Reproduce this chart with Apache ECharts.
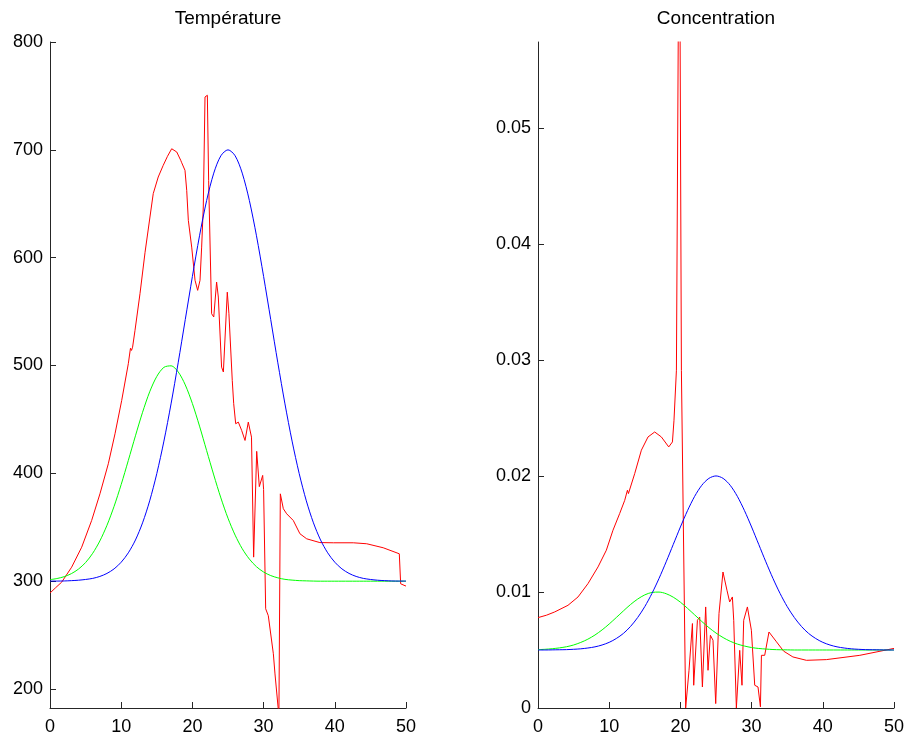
<!DOCTYPE html>
<html>
<head>
<meta charset="utf-8">
<script src="https://cdn.jsdelivr.net/npm/echarts@6/dist/echarts.min.js"></script>
<style>
html,body{margin:0;padding:0;background:#fff;}
#chart{width:911px;height:750px;}
</style>
</head>
<body>
<div id="chart"></div>
<script>
// ---- data ----
var titles = ['Température', 'Concentration'];
var xTicks = [0, 10, 20, 30, 40, 50];
var tempTicks = [200, 300, 400, 500, 600, 700, 800];
var concTicks = [0, 0.01, 0.02, 0.03, 0.04, 0.05];

var xGrid = [0,1,2,3,4,5,6,7,8,9,10,11,12,13,14,15,16,17,18,19,20,21,22,23,24,25,26,27,28,29,30,31,32,33,34,35,36,37,38,39,40,41,42,43,44,45,46,47,48,49,50];

var tempBlue = [300.1,300.1,300.2,300.5,300.9,301.6,302.6,304.4,307.2,311.4,317.6,326.3,338.2,354.1,374.5,399.8,429.9,464.4,502.5,542.6,582.6,620.3,653,678.4,694.5,700,694.5,678.4,653,620.3,582.6,542.6,502.5,464.4,429.9,399.8,374.5,354.1,338.2,326.3,317.6,311.4,307.2,304.4,302.6,301.6,300.9,300.5,300.2,300.1,300.1];

var tempGreen = [301.4,302.5,304.2,307,311.2,317.3,325.9,337.3,351.8,369.4,389.7,412,434.8,456.6,475.6,489.9,498.3,499.7,494.1,482,464.7,443.8,421.1,398.5,377.2,358.4,342.7,330.1,320.5,313.4,308.5,305.2,303.1,301.7,301,300.5,300.3,300.1,300,300,300,300,300,300,300,300,300,300,300,300,300];

var tempRedX = [0,0.8,1.64,3.04,4.45,5.85,7.02,8.19,9.13,10.07,11.0,11.3,11.45,11.6,11.94,12.64,13.35,14.04,14.5,15.2,15.9,16.5,17.09,17.8,18.36,18.5,18.7,18.96,19.2,19.43,19.9,20.37,20.74,21.07,21.3,21.53,21.77,22.1,22.28,22.7,23.0,23.4,23.64,24.1,24.35,24.9,25.13,25.6,25.8,26.08,26.45,26.92,27.39,27.85,28.3,28.6,29.03,29.4,29.87,30.0,30.29,30.66,30.9,31.37,31.6,32.15,32.35,32.77,33.24,34.17,35.1,36.05,37.9,39.8,42.6,44.48,46.8,49.06,49.25,49.86,50];
var tempRed = [289,294,299.1,313,331.5,356.3,381.1,408.9,436.7,467.6,501.7,516,514,517,532.6,566.6,605,637.7,659.4,674.8,685.6,694,701,698,690.3,688,688.7,681,662.4,634.6,609.8,579,569.7,579,609.8,647,749,750.6,671.7,548,545,577.4,563.5,498.5,494,568,548,486,464.6,446,447.5,439.8,430.5,447.5,433.6,322.3,420.4,387.7,398.1,385,274.4,268,269.8,232.7,214,175,381,367.2,362.5,356.3,344,339.3,335.8,335.6,335.6,334.7,331,325.4,297.6,295.8,295.5];

var concBlue = [0.005,0.005,0.00501,0.00502,0.00503,0.00506,0.0051,0.00517,0.00527,0.00543,0.00566,0.00599,0.00643,0.00703,0.0078,0.00874,0.00987,0.01117,0.0126,0.0141,0.0156,0.01701,0.01824,0.01919,0.01979,0.02,0.01979,0.01919,0.01824,0.01701,0.0156,0.0141,0.0126,0.01117,0.00987,0.00874,0.0078,0.00703,0.00643,0.00599,0.00566,0.00543,0.00527,0.00517,0.0051,0.00506,0.00503,0.00502,0.00501,0.005,0.005];

var concGreen = [0.00503,0.00506,0.00511,0.00518,0.00528,0.00543,0.00565,0.00593,0.00629,0.00673,0.00724,0.0078,0.00837,0.00892,0.00939,0.00975,0.00996,0.00999,0.00985,0.00955,0.00912,0.00859,0.00803,0.00746,0.00693,0.00646,0.00607,0.00575,0.00551,0.00534,0.00521,0.00513,0.00508,0.00504,0.00502,0.00501,0.005,0.005,0.005,0.005,0.005,0.005,0.005,0.005,0.005,0.005,0.005,0.005,0.005,0.005,0.005];

var concRedX = [0,1.2,2.35,4.21,5.62,7.02,8.43,9.6,10.53,11.47,12.18,12.56,12.7,12.88,13.58,14.52,15.45,16.39,17.33,18.36,18.88,19.1,19.44,19.85,20.14,20.74,21.21,21.69,21.87,22.15,22.39,22.71,23.09,23.55,23.88,24.21,24.58,24.96,25.42,25.98,26.54,26.92,27.3,27.49,27.86,28.33,28.65,28.89,29.41,29.97,30.44,30.9,31.24,31.38,31.84,32.44,33.5,34.5,35.8,37.7,40.5,45.2,49.86,50];
var concRed = [0.00779,0.008,0.00828,0.00885,0.00957,0.01072,0.01216,0.0136,0.01532,0.01676,0.0179,0.01877,0.01848,0.01842,0.0202,0.02222,0.02336,0.02379,0.02336,0.0225,0.02293,0.0248,0.02911,0.075,0.0291,0.0,0.00325,0.00728,0.00196,0.00181,0.00756,0.00784,0.00181,0.00871,0.00325,0.00627,0.00584,0.00038,0.00814,0.01172,0.01015,0.00914,0.00957,0.00756,0.0,0.00497,0.00196,0.00756,0.00871,0.0067,0.00196,0.00181,0.0001,0.00454,0.00454,0.00655,0.0057,0.0049,0.0044,0.00411,0.00417,0.00454,0.00512,0.00513];

// ---- build ----
function pairs(xs, ys){ var out=[]; for (var i=0;i<xs.length;i++) out.push([xs[i], ys[i]]); return out; }

var FONT = '"Liberation Sans", Arial, Helvetica, sans-serif';
var AXC = '#262626';

function xAxisCfg(idx){
  return {
    type:'value', gridIndex:idx, min:0, max:50, interval:10,
    axisLine:{show:true, onZero:false, lineStyle:{color:AXC, width:1}},
    axisTick:{show:true, inside:true, length:6, lineStyle:{color:AXC}, customValues:xTicks},
    axisLabel:{color:'#000', fontSize:18, fontFamily:FONT, margin:10, customValues:xTicks},
    splitLine:{show:false}
  };
}
function yAxisCfg(idx, min, max, ticks){
  return {
    type:'value', gridIndex:idx, min:min, max:max,
    axisLine:{show:true, onZero:false, lineStyle:{color:AXC, width:1}},
    axisTick:{show:true, inside:true, length:6, lineStyle:{color:AXC}, customValues:ticks},
    axisLabel:{color:'#000', fontSize:18, fontFamily:FONT, margin:7, customValues:ticks,
      formatter:function(v){ return String(+v.toFixed(4)); }},
    splitLine:{show:false}
  };
}
function line(xi, yi, data, color){
  return {type:'line', xAxisIndex:xi, yAxisIndex:yi, data:data, showSymbol:false,
    symbol:'none', clip:true, lineStyle:{color:color, width:1}, itemStyle:{color:color},
    animation:false, silent:true};
}
function gridLine(xi, ys, color){
  return Object.assign(line(xi, xi, pairs(xGrid, ys), color), {smooth:0.3});
}

var chart = echarts.init(document.getElementById('chart'), null, {renderer:'canvas'});
chart.setOption({
  backgroundColor:'#fff',
  animation:false,
  title:[
    {text:titles[0], left:228, textAlign:'center', top:9, padding:0,
     textStyle:{fontSize:19, fontWeight:'normal', color:'#000', fontFamily:FONT}},
    {text:titles[1], left:716, textAlign:'center', top:9, padding:0,
     textStyle:{fontSize:19, fontWeight:'normal', color:'#000', fontFamily:FONT}}
  ],
  grid:[
    {left:50, top:42, width:356, height:666, containLabel:false},
    {left:538, top:42, width:356, height:666, containLabel:false}
  ],
  xAxis:[xAxisCfg(0), xAxisCfg(1)],
  yAxis:[yAxisCfg(0, 182.4, 800, tempTicks), yAxisCfg(1, 0, 0.0574, concTicks)],
  series:[
    line(0, 0, pairs(tempRedX, tempRed), '#ff0000'),
    gridLine(0, tempGreen, '#00ff00'),
    gridLine(0, tempBlue, '#0000ff'),
    line(1, 1, pairs(concRedX, concRed), '#ff0000'),
    gridLine(1, concGreen, '#00ff00'),
    gridLine(1, concBlue, '#0000ff')
  ]
});
</script>
</body>
</html>
